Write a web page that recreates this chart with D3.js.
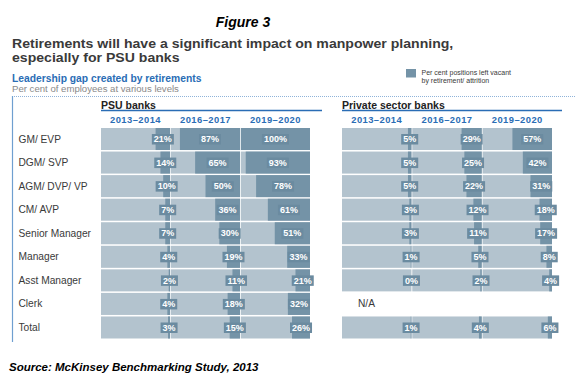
<!DOCTYPE html>
<html><head><meta charset="utf-8">
<script src="https://cdn.jsdelivr.net/npm/d3@7"></script>
<style>
body{margin:0;background:#fff;}
svg{display:block;font-family:"Liberation Sans",Arial,sans-serif;}
</style></head>
<body><svg id="c" width="576" height="382"></svg>
<script>
const rows = ["GM/ EVP","DGM/ SVP","AGM/ DVP/ VP","CM/ AVP","Senior Manager","Manager","Asst Manager","Clerk","Total"];
const years = ["2013\u20132014","2016\u20132017","2019\u20132020"];
const psu2014 = [21,14,10,7,7,4,2,4,3];
const psu2017 = [87,65,50,36,30,19,11,18,15];
const psu2020 = [100,93,78,61,51,33,21,32,26];
const pvt2014 = [5,5,5,3,3,1,0,null,1];
const pvt2017 = [29,25,22,12,11,5,2,null,4];
const pvt2020 = [57,42,31,18,17,8,4,null,6];
const panels = [
  {name:"PSU banks", range:[101,310], lineEnd:322, series:[psu2014,psu2017,psu2020]},
  {name:"Private sector banks", range:[342,552], lineEnd:562, series:[pvt2014,pvt2017,pvt2020]}
];

const LIGHT="#b3c3ce", DARK="#7493a7", LABEL="#6b8ba0", BLUE="#2a6db5", TXT="#3a3a3a";
const svg = d3.select("#c");

// titles
svg.append("text").attr("x",243).attr("y",27).attr("text-anchor","middle")
  .attr("font-size",14).attr("font-weight","bold").attr("font-style","italic").attr("fill","#000").text("Figure 3");
svg.append("text").attr("transform","translate(12,48.3) scale(1.145,1)").attr("font-size",12.3).attr("font-weight","bold").attr("fill",TXT)
  .text("Retirements will have a significant impact on manpower planning,");
svg.append("text").attr("transform","translate(12,62.1) scale(1.145,1)").attr("font-size",12.3).attr("font-weight","bold").attr("fill",TXT)
  .text("especially for PSU banks");
svg.append("text").attr("x",12).attr("y",82).attr("font-size",10.3).attr("font-weight","bold").attr("fill",BLUE)
  .text("Leadership gap created by retirements");
svg.append("text").attr("x",12).attr("y",92).attr("font-size",9.6).attr("fill","#8a8a8a")
  .text("Per cent of employees at various levels");

// legend
svg.append("rect").attr("x",406).attr("y",69).attr("width",10).attr("height",8.5).attr("fill",DARK);
svg.append("text").attr("x",421.5).attr("y",74.5).attr("font-size",7).attr("fill",TXT).text("Per cent positions left vacant");
svg.append("text").attr("x",421.5).attr("y",82.5).attr("font-size",7).attr("fill",TXT).text("by retirement/ attrition");

// frame
svg.append("line").attr("x1",12).attr("x2",576).attr("y1",96.5).attr("y2",96.5)
  .attr("stroke","#8fb3d9").attr("stroke-width",1.2).attr("stroke-dasharray","1,1");
svg.append("line").attr("x1",12.5).attr("x2",12.5).attr("y1",96).attr("y2",342)
  .attr("stroke","#6f9fd0").attr("stroke-width",1.2);

const y = d3.scaleBand().domain(rows).range([128,338.5]).paddingInner(0.065);

// row labels
svg.append("g").selectAll("text").data(rows).join("text")
  .attr("x",18.5).attr("y",d=>y(d)+y.bandwidth()/2+3.5)
  .attr("font-size",10.2).attr("fill",TXT).text(d=>d);

panels.forEach(p=>{
  const g = svg.append("g");
  const x = d3.scaleBand().domain(years).range(p.range).paddingInner(0.012);
  g.append("text").attr("x",p.range[0]).attr("y",108.5).attr("font-size",10.5).attr("font-weight","bold")
    .attr("fill","#222").text(p.name);
  g.append("line").attr("x1",p.range[0]).attr("x2",p.lineEnd).attr("y1",110.5).attr("y2",110.5)
    .attr("stroke",BLUE).attr("stroke-width",1.6);
  g.selectAll(".yr").data(years).join("text").attr("class","yr")
    .attr("x",d=>x(d)+x.bandwidth()/2).attr("y",122.5).attr("text-anchor","middle")
    .attr("font-size",9.4).attr("letter-spacing",0.45).attr("font-weight","bold").attr("fill",BLUE).text(d=>d);
  years.forEach((yr,k)=>{
    const v = d3.scaleLinear().domain([0,100]).range([0,x.bandwidth()]);
    const vals = p.series[k];
    const x0 = x(yr), bw = x.bandwidth();
    rows.forEach((r,i)=>{
      const val = vals[i];
      if(val==null) return;
      g.append("rect").attr("x",x0).attr("y",y(r)).attr("width",bw).attr("height",y.bandwidth()).attr("fill",LIGHT);
      g.append("rect").attr("x",x0+bw-v(val)).attr("y",y(r)).attr("width",v(val)).attr("height",y.bandwidth()).attr("fill",DARK);
    });
  });
  years.forEach((yr,k)=>{
    const v = d3.scaleLinear().domain([0,100]).range([0,x.bandwidth()]);
    const vals = p.series[k];
    const x0 = x(yr), bw = x.bandwidth();
    rows.forEach((r,i)=>{
      const val = vals[i];
      if(val==null) return;
      const cx = x0+bw-v(val)/2, cy = y(r)+y.bandwidth()/2;
      const box = g.append("rect").attr("fill",LABEL);
      const t = g.append("text").attr("x",cx).attr("y",cy+3.2).attr("text-anchor","middle")
        .attr("font-size",9).attr("font-weight","bold").attr("fill","#fff").text(val+"%");
      const w = t.node().getComputedTextLength()+4;
      box.attr("x",cx-w/2).attr("y",cy-5).attr("width",w).attr("height",10.5);
    });
  });
});

// N/A
svg.append("text").attr("x",358).attr("y",y("Clerk")+y.bandwidth()/2+3.5).attr("font-size",10.2).attr("fill",TXT).text("N/A");

// source
svg.append("text").attr("x",9).attr("y",370.5).attr("font-size",11.5).attr("font-weight","bold").attr("font-style","italic")
  .attr("fill","#000").text("Source: McKinsey Benchmarking Study, 2013");
</script></body></html>
